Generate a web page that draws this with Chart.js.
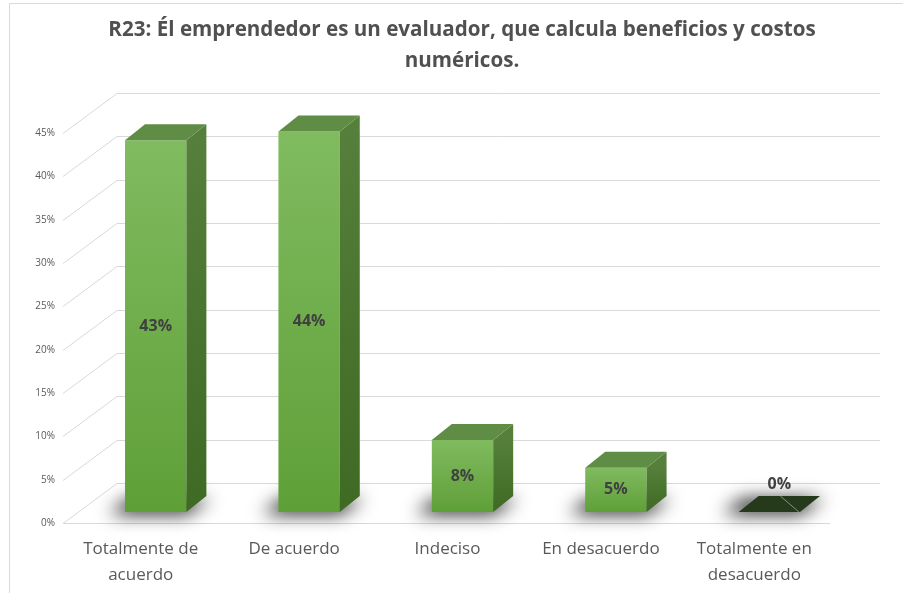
<!DOCTYPE html>
<html>
<head>
<meta charset="utf-8">
<script src="https://cdn.jsdelivr.net/npm/chart.js@4.4.1/dist/chart.umd.min.js"></script>
<style>
  html, body { margin: 0; padding: 0; background: #ffffff; }
  #wrap { position: relative; width: 903px; height: 593px; }
</style>
</head>
<body>
<div id="wrap"><canvas id="chart" width="903" height="593"></canvas></div>
<script>
// Chart data (percent of answers)
const titleLines = ['R23: Él emprendedor es un evaluador, que calcula beneficios y costos', 'numéricos.'];
const categories = [['Totalmente de', 'acuerdo'], 'De acuerdo', 'Indeciso', 'En desacuerdo', ['Totalmente en', 'desacuerdo']];
const values = [42.9, 43.9, 8.3, 5.1, 0];
const yTicks = [0, 5, 10, 15, 20, 25, 30, 35, 40, 45];

const FONT = '"Open Sans", Lato, sans-serif';

// depth of each bar and offsets from the bar plane to the walls
const BAR_DX = 20, BAR_DY = -16;
const BACK = { dx: 38, dy: -29 };
const FRONT = { dx: -16, dy: 11 };

/**
 * Draws the fake 3D parts: walls, floor, shadows, bar sides and tops, labels
 */
const threeD = {
    id: 'threeD',
    beforeDatasetsDraw(chart) {
        const ctx = chart.ctx;
        const area = chart.chartArea;
        const ys = chart.scales.y;
        ctx.save();

        // outer frame (only top and left show in the original)
        ctx.strokeStyle = '#d9d9d9';
        ctx.lineWidth = 1;
        ctx.beginPath();
        ctx.moveTo(9.5, 593);
        ctx.lineTo(9.5, 3.5);
        ctx.lineTo(903, 3.5);
        ctx.stroke();

        // back wall + side wall gridlines
        yTicks.forEach(v => {
            const y = Math.round(ys.getPixelForValue(v)) + 0.5;
            ctx.beginPath();
            ctx.moveTo(area.left + FRONT.dx, y + FRONT.dy);
            ctx.lineTo(area.left + BACK.dx, y + BACK.dy);
            ctx.lineTo(area.right + BACK.dx - 4, y + BACK.dy);
            ctx.stroke();
        });
        // front edge of the floor
        const y0 = Math.round(ys.getPixelForValue(0)) + 0.5;
        ctx.beginPath();
        ctx.moveTo(area.left + FRONT.dx, y0 + FRONT.dy);
        ctx.lineTo(area.right + FRONT.dx, y0 + FRONT.dy);
        ctx.stroke();

        // soft shadow around the foot of each bar (shape drawn off-canvas, only its shadow lands here)
        const OFF = 5000;
        const meta = chart.getDatasetMeta(0);
        meta.data.forEach(bar => {
            const l = bar.x - bar.width / 2, r = bar.x + bar.width / 2, b = bar.base;
            ctx.save();
            ctx.shadowColor = 'rgba(0,0,0,0.9)';
            ctx.shadowBlur = 18;
            ctx.shadowOffsetX = OFF - 6;
            ctx.shadowOffsetY = 1;
            ctx.fillStyle = '#000';
            ctx.beginPath();
            ctx.moveTo(l - 10 - OFF, b + 1);
            ctx.lineTo(r + 6 - OFF, b + 1);
            ctx.lineTo(r + BAR_DX + 10 - OFF, b + BAR_DY + 2);
            ctx.lineTo(l + BAR_DX - 10 - OFF, b + BAR_DY + 2);
            ctx.closePath();
            ctx.fill();
            ctx.restore();
        });
        ctx.restore();
    },
    afterDatasetsDraw(chart) {
        const ctx = chart.ctx;
        const meta = chart.getDatasetMeta(0);
        ctx.save();
        meta.data.forEach((bar, i) => {
            const l = bar.x - bar.width / 2, r = bar.x + bar.width / 2;
            const t = bar.y, b = bar.base;
            const flat = b - t < 1;

            // right side face
            if (!flat) {
                const g = ctx.createLinearGradient(0, t, 0, b);
                g.addColorStop(0, '#557f3a');
                g.addColorStop(1, '#3e6a24');
                ctx.fillStyle = g;
                ctx.beginPath();
                ctx.moveTo(r, t);
                ctx.lineTo(r + BAR_DX, t + BAR_DY);
                ctx.lineTo(r + BAR_DX, b + BAR_DY);
                ctx.lineTo(r, b);
                ctx.closePath();
                ctx.fill();
            }
            // top face
            ctx.fillStyle = flat ? '#243a1a' : '#608d45';
            ctx.beginPath();
            ctx.moveTo(l, t);
            ctx.lineTo(r, t);
            ctx.lineTo(r + BAR_DX, t + BAR_DY);
            ctx.lineTo(l + BAR_DX, t + BAR_DY);
            ctx.closePath();
            ctx.fill();
            if (flat) {
                ctx.strokeStyle = 'rgba(200,200,200,0.6)';
                ctx.lineWidth = 1;
                ctx.beginPath();
                ctx.moveTo(bar.x + 11, t + BAR_DY);
                ctx.lineTo(r - 1, t);
                ctx.stroke();
            }

            // value label
            ctx.fillStyle = '#404040';
            ctx.font = 'bold 16px ' + FONT;
            ctx.textAlign = 'center';
            ctx.textBaseline = 'middle';
            const txt = Math.round(values[i]) + '%';
            if (flat) {
                ctx.fillText(txt, bar.x + BAR_DX / 2, b - 28);
            } else {
                ctx.fillText(txt, bar.x, (t + b) / 2);
            }
        });
        ctx.restore();
    }
};

const ctx = document.getElementById('chart').getContext('2d');
new Chart(ctx, {
    type: 'bar',
    data: {
        labels: categories,
        datasets: [{
            data: values,
            backgroundColor: (c) => {
                const chart = c.chart;
                if (!chart.chartArea || c.type !== 'data') return '#6fae4a';
                const ys = chart.scales.y;
                const top = ys.getPixelForValue(c.parsed.y);
                const bottom = ys.getPixelForValue(0);
                if (bottom - top < 1) return '#243a1a';
                const g = chart.ctx.createLinearGradient(0, top, 0, bottom);
                g.addColorStop(0, '#80bb60');
                g.addColorStop(1, '#5f9f37');
                return g;
            },
            borderWidth: 0,
            barPercentage: 0.4,
            categoryPercentage: 1
        }]
    },
    options: {
        responsive: false,
        animation: false,
        layout: { padding: { left: 21, right: 0, top: 0, bottom: 0 } },
        plugins: {
            legend: { display: false },
            tooltip: { enabled: false },
            title: {
                display: true,
                text: titleLines,
                color: '#505050',
                font: { family: FONT, size: 20.6, weight: 'bold', lineHeight: 1.5 },
                padding: { top: 15, bottom: 45.2 }
            }
        },
        scales: {
            x: {
                grid: { display: false, drawTicks: false },
                border: { display: false },
                afterFit: (scale) => { scale.height = 81; },
                ticks: {
                    color: '#595959',
                    font: { family: FONT, size: 17, lineHeight: 1.55 },
                    padding: 24,
                    labelOffset: -15,
                    maxRotation: 0,
                    autoSkip: false
                }
            },
            y: {
                min: 0,
                max: 45,
                grid: { display: false, drawTicks: false },
                border: { display: false },
                afterFit: (scale) => { scale.width = 58; },
                ticks: {
                    stepSize: 5,
                    color: '#595959',
                    font: { family: FONT, size: 10 },
                    padding: 24,
                    labelOffset: 11,
                    callback: (v) => v + '%'
                }
            },
            // empty axis that only keeps space on the right
            yRight: {
                position: 'right',
                display: true,
                grid: { display: false, drawTicks: false },
                border: { display: false },
                ticks: { display: false },
                afterFit: (scale) => { scale.width = 57; }
            }
        }
    },
    plugins: [threeD]
});
</script>
</body>
</html>
